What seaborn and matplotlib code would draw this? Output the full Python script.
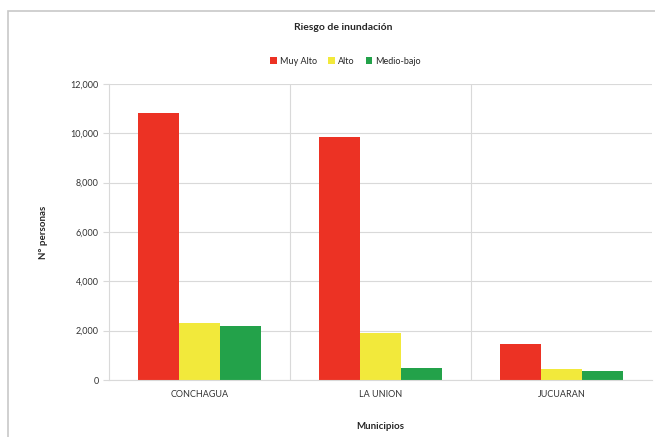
import matplotlib.pyplot as plt
import pandas as pd
import seaborn as sns
from matplotlib.patches import Rectangle
from matplotlib.ticker import FuncFormatter

municipios = ["CONCHAGUA", "LA UNION", "JUCUARAN"]
niveles = ["Muy Alto", "Alto", "Medio-bajo"]
muy_alto = [10820, 9850, 1450]
alto = [2320, 1920, 460]
medio_bajo = [2190, 475, 380]
colores = ["#EC3224", "#F2E93B", "#23A24A"]

rows = []
for i, m in enumerate(municipios):
    for nivel, vals in zip(niveles, [muy_alto, alto, medio_bajo]):
        rows.append({"municipio": m, "nivel": nivel, "valor": vals[i]})
data = pd.DataFrame(rows)

sns.set_style("white")
plt.rcParams["font.family"] = ["Lato", "DejaVu Sans"]

fig = plt.figure(figsize=(6.55, 4.37), dpi=100)
ax = fig.add_axes([0.1664, 0.1304, 0.829, 0.6774])

sns.barplot(
    data=data,
    x="municipio",
    y="valor",
    hue="nivel",
    hue_order=niveles,
    palette=colores,
    width=0.68,
    saturation=1,
    linewidth=0,
    ax=ax,
)

ax.set_ylim(0, 12000)
ax.set_xlim(-0.5, 2.5)
ax.set_yticks(range(0, 12001, 2000))
ax.yaxis.set_major_formatter(FuncFormatter(lambda v, p: f"{int(v):,}"))
ax.yaxis.grid(True, color="#d9d9d9", linewidth=0.8)
ax.set_axisbelow(True)
for xb in [0.5, 1.5]:
    ax.axvline(xb, color="#d9d9d9", linewidth=0.8, zorder=0)
ax.set_xticks([0.5, 1.5], minor=True)
ax.tick_params(axis="x", which="major", length=0, labelsize=6.5, colors="#333333", pad=7)
ax.tick_params(axis="x", which="minor", length=4, color="#d9d9d9", width=0.8)
ax.tick_params(axis="y", length=4, color="#d9d9d9", width=0.8, labelsize=6.5,
               colors="#333333", left=True)
for side in ["top", "right"]:
    ax.spines[side].set_visible(False)
ax.spines["left"].set_color("#d9d9d9")
ax.spines["bottom"].set_color("#d9d9d9")

ax.set_xlabel("Municipios", fontsize=7, fontweight="bold", labelpad=17)
ax.set_ylabel("N° personas", fontsize=7, fontweight="bold", labelpad=16)

ax.legend(loc="center", bbox_to_anchor=(0.436, 1.077), ncol=3,
          frameon=False, fontsize=6.5, handlelength=0.7, handleheight=0.7,
          handletextpad=0.4, columnspacing=1.2)

fig.text(0.524, 0.938, "Riesgo de inundación", ha="center", va="center",
         fontsize=7.5, fontweight="bold")
fig.patches.append(Rectangle((8 / 655, -0.1), 1.2, 1.1 - 11 / 437,
                             transform=fig.transFigure, fill=False,
                             edgecolor="#c8c8c8", linewidth=1.2))

fig.savefig("out.png", dpi=100)
